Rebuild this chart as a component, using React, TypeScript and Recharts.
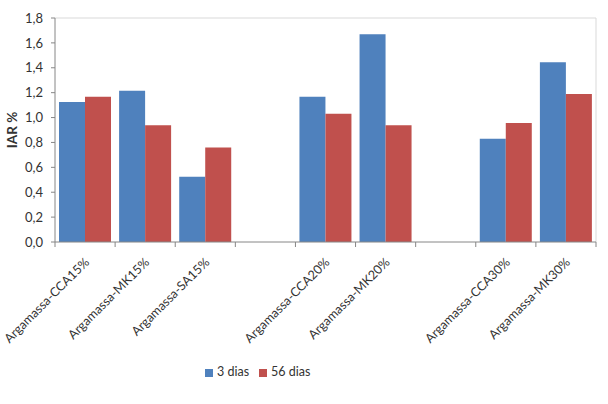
import React from 'react';
import {
  BarChart, Bar, XAxis, YAxis, CartesianGrid, Legend,
} from 'recharts';

const categories = [
  'Argamassa-CCA15%', 'Argamassa-MK15%', 'Argamassa-SA15%', '',
  'Argamassa-CCA20%', 'Argamassa-MK20%', ' ',
  'Argamassa-CCA30%', 'Argamassa-MK30%',
];
const dias3 = [1.125, 1.215, 0.525, null, 1.168, 1.67, null, 0.83, 1.445];
const dias56 = [1.168, 0.938, 0.76, null, 1.03, 0.938, null, 0.957, 1.19];
const yTicks = [0, 0.2, 0.4, 0.6, 0.8, 1.0, 1.2, 1.4, 1.6, 1.8];

const BLUE = '#4F81BD';
const RED = '#C0504D';
const AXIS = '#868686';
const TEXT = '#333333';
const FONT = 'Lato, "Open Sans", sans-serif';

const data = categories.map((name, i) => ({ name, d3: dias3[i], d56: dias56[i] }));

const fmt = (v: number) => v.toFixed(1).replace('.', ',');

// slanted label + Excel style tick marks on the category boundaries
const SlantTick = ({ x, y, payload, index, visibleTicksCount }: any) => {
  const half = payload?.offset ?? 0;
  const top = y - 8;
  const label = payload?.value?.trim();
  const last = index === (visibleTicksCount ?? categories.length) - 1;
  return (
    <g>
      <line x1={x - half} x2={x - half} y1={top} y2={top + 5} stroke={AXIS} />
      {last && <line x1={x + half} x2={x + half} y1={top} y2={top + 5} stroke={AXIS} />}
      {label && (
        <g transform={`translate(${x + 5},${y + 13})`}>
          <text transform="rotate(-45)" textAnchor="end" fill={TEXT} fontSize={12.6} fontFamily={FONT}>
            {payload.value}
          </text>
        </g>
      )}
    </g>
  );
};

export default function App() {
  return (
    <div style={{ position: 'absolute', left: 0, top: 0, width: 608, height: 404, background: '#fff' }}>
      <BarChart
        width={608}
        height={404}
        data={data}
        margin={{ top: 18, right: 12, left: 0, bottom: 22 }}
        barCategoryGap={4}
        barGap={0}
      >
        <CartesianGrid
          stroke="#d9d9d9"
          horizontalCoordinatesGenerator={({ offset }: any) => [offset.top]}
          verticalCoordinatesGenerator={({ offset }: any) => [offset.left + offset.width]}
        />
        <XAxis
          dataKey="name"
          interval={0}
          height={140}
          stroke={AXIS}
          tickLine={false}
          tick={<SlantTick />}
        />
        <YAxis
          width={55}
          domain={[0, 1.8]}
          ticks={yTicks}
          tickFormatter={fmt}
          tickSize={4}
          tickMargin={8}
          stroke={AXIS}
          tick={{ fill: TEXT, fontSize: 13, fontFamily: FONT }}
          label={{
            value: 'IAR %', angle: -90, position: 'insideLeft', offset: 12,
            style: { fill: TEXT, fontSize: 13.5, fontWeight: 700, fontFamily: FONT, textAnchor: 'middle' },
          }}
        />
        <Legend
          layout="horizontal"
          verticalAlign="middle"
          align="center"
          iconType="square"
          iconSize={8}
          wrapperStyle={{ top: 364, left: 205, width: 'auto', whiteSpace: 'nowrap', fontFamily: FONT, fontSize: 12.5 }}
          formatter={(v: string) => <span style={{ color: TEXT }}>{v}</span>}
        />
        <Bar dataKey="d3" name="3 dias" fill={BLUE} isAnimationActive={false} />
        <Bar dataKey="d56" name="56 dias" fill={RED} isAnimationActive={false} />
      </BarChart>
    </div>
  );
}
